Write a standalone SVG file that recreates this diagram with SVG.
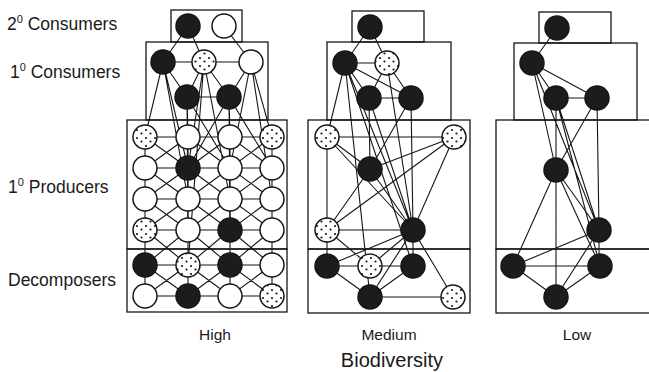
<svg xmlns="http://www.w3.org/2000/svg" width="649" height="372" viewBox="0 0 649 372">
<style>
  .box{fill:none;stroke:#161616;stroke-width:1.3}
  .edge{fill:none;stroke:#161616;stroke-width:1.1}
  .node circle{stroke:#161616;stroke-width:1.5}
  .b circle{fill:#1c1c1c}
  .w circle{fill:#ffffff}
  .d circle{fill:url(#dots)}
  .lbl{font-family:"Liberation Sans",Arial,sans-serif;fill:#1a1a1a}
</style>
<defs>
  <pattern id="dots" patternUnits="userSpaceOnUse" width="9" height="8">
    <rect width="9" height="8" fill="#ffffff"/>
    <circle cx="2" cy="2" r="1.1" fill="#1a1a1a"/>
    <circle cx="6.5" cy="5.5" r="1.1" fill="#1a1a1a"/>
  </pattern>
</defs>
<rect width="649" height="372" fill="#ffffff"/>

<!-- trophic level labels -->
<g id="labels" class="lbl">
  <text x="7" y="30" font-size="17.5">2<tspan font-size="11" dy="-7">0</tspan><tspan dy="7"> Consumers</tspan></text>
  <text x="10" y="78" font-size="17.5">1<tspan font-size="11" dy="-7">0</tspan><tspan dy="7"> Consumers</tspan></text>
  <text x="8" y="193" font-size="17.5">1<tspan font-size="11" dy="-7">0</tspan><tspan dy="7"> Producers</tspan></text>
  <text x="8" y="286" font-size="17.5">Decomposers</text>
  <text x="215" y="340" font-size="15.5" text-anchor="middle">High</text>
  <text x="389" y="340" font-size="15.5" text-anchor="middle">Medium</text>
  <text x="577" y="340" font-size="15.5" text-anchor="middle">Low</text>
  <text x="392" y="367" font-size="20" text-anchor="middle">Biodiversity</text>
</g>

<!-- level boxes -->
<g id="boxes">
  <rect class="box" x="171" y="10" width="71" height="32"/>
  <rect class="box" x="146" y="42" width="122" height="78"/>
  <rect class="box" x="127" y="120" width="160" height="129"/>
  <rect class="box" x="127" y="249" width="160" height="63"/>
  <rect class="box" x="352" y="11" width="72" height="31"/>
  <rect class="box" x="327" y="42" width="124" height="78"/>
  <rect class="box" x="308" y="120" width="162" height="129"/>
  <rect class="box" x="308" y="249" width="162" height="64"/>
  <rect class="box" x="539" y="12" width="72" height="31"/>
  <rect class="box" x="514" y="43" width="123" height="77"/>
  <rect class="box" x="496" y="120" width="170" height="129"/>
  <rect class="box" x="496" y="249" width="170" height="64"/>
</g>

<!-- feeding links -->
<g id="connectors" class="edge">
  <!-- high: consumers -->
  <path d="M188 26L163 62M188 26L204 62M224 26L251 62M163 62H251M163 62L187 97M204 62L187 97M204 62L229 97M187 97H229M251 62L229 97"/>
  <!-- high: consumers to lower levels -->
  <path d="M163 62L145 137M163 62L188 168M163 62L188 199M187 97L188 137M187 97L230 168M187 97L188 230M204 62L188 168M204 62L230 199M204 62L188 265M229 97L230 137M229 97L188 168M229 97L230 230M229 97L272 168M251 62L272 137M251 62L272 199M251 62L230 168"/>
  <!-- high: producer/decomposer mesh -->
  <path d="M145 137H272M145 168H272M145 199H272M145 230H272M145 265H272M145 296H272M145 137V296M188 137V296M230 137V296M272 137V296"/>
  <path d="M145 137L188 168M188 137L145 168M188 137L230 168M230 137L188 168M230 137L272 168M272 137L230 168
           M145 168L188 199M188 168L145 199M188 168L230 199M230 168L188 199M230 168L272 199M272 168L230 199
           M145 199L188 230M188 199L145 230M188 199L230 230M230 199L188 230M230 199L272 230M272 199L230 230
           M145 230L188 265M188 230L145 265M188 230L230 265M230 230L188 265M230 230L272 265M272 230L230 265
           M145 265L188 296M188 265L145 296M188 265L230 296M230 265L188 296M230 265L272 296M272 265L230 296"/>
  <!-- medium -->
  <path d="M370 27L345 63M370 27L387 63M345 63H387M345 63L369 98M345 63L411 98M387 63L369 98M387 63L411 98M369 98H411"/>
  <path d="M345 63L327 137M345 63L370 297M345 63L413 266M345 63L413 230M369 98L370 169M369 98L413 230M387 63L413 230M411 98L370 169M411 98L413 230"/>
  <path d="M327 137H454M327 137L370 169M327 137V230M327 137L413 230M454 137L370 169M454 137L327 230M454 137L413 230M370 169L413 230M370 169L327 230M327 230H413"/>
  <path d="M327 230V266M327 230L370 266M413 230L327 266M413 230L370 266M413 230V266M413 230L370 297M413 230L453 297M327 266H413M327 266L370 297M370 297L413 266M370 297H453"/>
  <!-- low -->
  <path d="M557 28L532 63M532 63L556 98M532 63L597 98M556 98H597M532 63L556 170M532 63L599 230M556 98V297M556 98L599 230M556 98L600 266M597 98L556 170M597 98L599 230"/>
  <path d="M556 170L599 230M556 170L600 266M556 170L513 266M599 230L513 266M599 230V266M599 230L556 297M513 266H600M513 266L556 297M600 266L556 297"/>
</g>

<!-- high biodiversity web -->
<g id="high-nodes">
  <g id="hi-s1" class="node b"><circle cx="188" cy="26" r="12"/></g>
  <g id="hi-s2" class="node w"><circle cx="224" cy="26" r="12"/></g>
  <g id="hi-c1" class="node b"><circle cx="163" cy="62" r="12"/></g>
  <g id="hi-c2" class="node d"><circle cx="204" cy="62" r="12"/></g>
  <g id="hi-c3" class="node w"><circle cx="251" cy="62" r="12"/></g>
  <g id="hi-c4" class="node b"><circle cx="187" cy="97" r="12"/></g>
  <g id="hi-c5" class="node b"><circle cx="229" cy="97" r="12"/></g>
  <g id="hi-p1" class="node d"><circle cx="145" cy="137" r="12"/></g>
  <g id="hi-p2" class="node w"><circle cx="188" cy="137" r="12"/></g>
  <g id="hi-p3" class="node w"><circle cx="230" cy="137" r="12"/></g>
  <g id="hi-p4" class="node d"><circle cx="272" cy="137" r="12"/></g>
  <g id="hi-p5" class="node w"><circle cx="145" cy="168" r="12"/></g>
  <g id="hi-p6" class="node b"><circle cx="188" cy="168" r="12"/></g>
  <g id="hi-p7" class="node w"><circle cx="230" cy="168" r="12"/></g>
  <g id="hi-p8" class="node w"><circle cx="272" cy="168" r="12"/></g>
  <g id="hi-p9" class="node w"><circle cx="145" cy="199" r="12"/></g>
  <g id="hi-p10" class="node w"><circle cx="188" cy="199" r="12"/></g>
  <g id="hi-p11" class="node w"><circle cx="230" cy="199" r="12"/></g>
  <g id="hi-p12" class="node w"><circle cx="272" cy="199" r="12"/></g>
  <g id="hi-p13" class="node d"><circle cx="145" cy="230" r="12"/></g>
  <g id="hi-p14" class="node w"><circle cx="188" cy="230" r="12"/></g>
  <g id="hi-p15" class="node b"><circle cx="230" cy="230" r="12"/></g>
  <g id="hi-p16" class="node w"><circle cx="272" cy="230" r="12"/></g>
  <g id="hi-d1" class="node b"><circle cx="145" cy="265" r="12"/></g>
  <g id="hi-d2" class="node d"><circle cx="188" cy="265" r="12"/></g>
  <g id="hi-d3" class="node b"><circle cx="230" cy="265" r="12"/></g>
  <g id="hi-d4" class="node w"><circle cx="272" cy="265" r="12"/></g>
  <g id="hi-d5" class="node w"><circle cx="145" cy="296" r="12"/></g>
  <g id="hi-d6" class="node b"><circle cx="188" cy="296" r="12"/></g>
  <g id="hi-d7" class="node w"><circle cx="230" cy="296" r="12"/></g>
  <g id="hi-d8" class="node d"><circle cx="272" cy="296" r="12"/></g>
</g>

<!-- medium biodiversity web -->
<g id="medium-nodes">
  <g id="md-s1" class="node b"><circle cx="370" cy="27" r="12"/></g>
  <g id="md-c1" class="node b"><circle cx="345" cy="63" r="12"/></g>
  <g id="md-c2" class="node d"><circle cx="387" cy="63" r="12"/></g>
  <g id="md-c3" class="node b"><circle cx="369" cy="98" r="12"/></g>
  <g id="md-c4" class="node b"><circle cx="411" cy="98" r="12"/></g>
  <g id="md-p1" class="node d"><circle cx="327" cy="137" r="12"/></g>
  <g id="md-p2" class="node d"><circle cx="454" cy="137" r="12"/></g>
  <g id="md-p3" class="node b"><circle cx="370" cy="169" r="12"/></g>
  <g id="md-p4" class="node d"><circle cx="327" cy="230" r="12"/></g>
  <g id="md-p5" class="node b"><circle cx="413" cy="230" r="12"/></g>
  <g id="md-d1" class="node b"><circle cx="327" cy="266" r="12"/></g>
  <g id="md-d2" class="node d"><circle cx="370" cy="266" r="12"/></g>
  <g id="md-d3" class="node b"><circle cx="413" cy="266" r="12"/></g>
  <g id="md-d4" class="node b"><circle cx="370" cy="297" r="12"/></g>
  <g id="md-d5" class="node d"><circle cx="453" cy="297" r="12"/></g>
</g>

<!-- low biodiversity web -->
<g id="low-nodes">
  <g id="lo-s1" class="node b"><circle cx="557" cy="28" r="12"/></g>
  <g id="lo-c1" class="node b"><circle cx="532" cy="63" r="12"/></g>
  <g id="lo-c2" class="node b"><circle cx="556" cy="98" r="12"/></g>
  <g id="lo-c3" class="node b"><circle cx="597" cy="98" r="12"/></g>
  <g id="lo-p1" class="node b"><circle cx="556" cy="170" r="12"/></g>
  <g id="lo-p2" class="node b"><circle cx="599" cy="230" r="12"/></g>
  <g id="lo-d1" class="node b"><circle cx="513" cy="266" r="12"/></g>
  <g id="lo-d2" class="node b"><circle cx="600" cy="266" r="12"/></g>
  <g id="lo-d3" class="node b"><circle cx="556" cy="297" r="12"/></g>
</g>
</svg>
